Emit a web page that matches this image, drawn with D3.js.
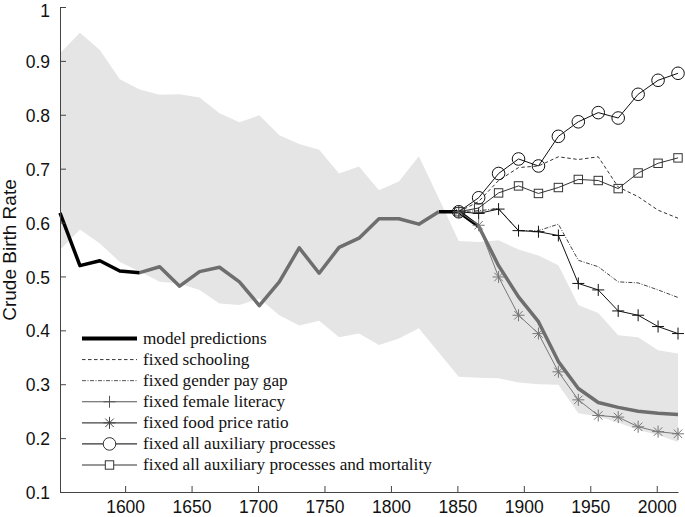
<!DOCTYPE html>
<html><head><meta charset="utf-8">
<script src="https://cdn.jsdelivr.net/npm/d3@7"></script>
<style>body{margin:0;background:#fff}svg{display:block}</style>
</head><body>
<svg id="c" width="685" height="517"></svg>
<script>
// ---- data ----
const histYears = [1551,1566,1581,1596,1611,1626,1641,1656,1671,1686,1701,1716,1731,1746,1761,1776,1791,1806,1821,1836,1851,1866,1881,1896,1911,1926,1941,1956,1971,1986,2001,2016];
const observed = [0.618,0.520,0.529,0.510,0.507,0.518,0.482,0.509,0.517,0.490,0.446,0.490,0.553,0.506,0.554,0.571,0.607,0.607,0.597,0.620,0.620,0.593,0.520,0.462,0.416,0.342,0.292,0.266,0.257,0.250,0.246,0.244];
const bandUpper = [0.914,0.952,0.920,0.866,0.847,0.837,0.838,0.832,0.803,0.786,0.799,0.762,0.746,0.735,0.691,0.704,0.660,0.676,0.723,0.645,0.566,0.564,0.567,0.550,0.539,0.521,0.447,0.432,0.391,0.387,0.363,0.357];
const bandLower = [0.549,0.587,0.561,0.527,0.509,0.490,0.487,0.475,0.450,0.447,0.459,0.428,0.409,0.418,0.387,0.394,0.373,0.385,0.404,0.359,0.314,0.312,0.311,0.303,0.300,0.299,0.246,0.240,0.229,0.215,0.206,0.193];
// model predictions (black) where visible
const modelYearsA = [1551,1566,1581,1596,1611];
const modelA = [0.618,0.520,0.529,0.510,0.507];
const modelYearsB = [1836,1851,1866];
const modelB = [0.620,0.620,0.593];

const futYears = [1851,1866,1881,1896,1911,1926,1941,1956,1971,1986,2001,2016];
const fixedSchooling = [0.620,0.639,0.678,0.702,0.705,0.722,0.717,0.722,0.666,0.648,0.623,0.608];
const fixedPayGap    = [0.620,0.622,0.626,0.585,0.585,0.597,0.530,0.518,0.490,0.488,0.475,0.461];
const fixedLiteracy  = [0.620,0.617,0.625,0.585,0.583,0.576,0.487,0.475,0.436,0.428,0.407,0.394];
const fixedFood      = [0.620,0.595,0.499,0.428,0.394,0.323,0.271,0.242,0.239,0.221,0.212,0.208];
const fixedAllAux    = [0.620,0.646,0.691,0.718,0.705,0.760,0.787,0.804,0.794,0.838,0.864,0.877];
const fixedAllAuxMort= [0.620,0.627,0.655,0.668,0.654,0.665,0.680,0.678,0.663,0.692,0.710,0.720];

const xTicks = [1600,1650,1700,1750,1800,1850,1900,1950,2000];
const yTicks = [0.1,0.2,0.3,0.4,0.5,0.6,0.7,0.8,0.9,1];
const legendLabels = ["model predictions","fixed schooling","fixed gender pay gap","fixed female literacy","fixed food price ratio","fixed all auxiliary processes","fixed all auxiliary processes and mortality"];

// ---- drawing ----
const svg = d3.select("#c");
const x = d3.scaleLinear().domain([1551,2016]).range([60,678]);
const y = d3.scaleLinear().domain([0.1,1]).range([492,7]);

const zip = (xs, ys) => xs.map((d,i)=>[d, ys[i]]);

// band
const bandData = histYears.map((d,i)=>({yr:d, lo:bandLower[i], hi:bandUpper[i]}));
svg.append("path").datum(bandData)
  .attr("d", d3.area().x(d=>x(d.yr)).y0(d=>y(d.lo)).y1(d=>y(d.hi)))
  .attr("fill","#e5e5e5");

const line = d3.line().x(d=>x(d[0])).y(d=>y(d[1]));

// black model
[[modelYearsA,modelA],[modelYearsB,modelB]].forEach(([xs,ys])=>{
  svg.append("path").datum(zip(xs,ys)).attr("d", line)
    .attr("fill","none").attr("stroke","#000").attr("stroke-width",3.5).attr("stroke-linejoin","round");
});
// observed gray (drawn over the model, except where the model is the only line)
const obsIdx = histYears.map((d,i)=>i).filter(i=>histYears[i]>=1611 && (histYears[i]<=1836 || histYears[i]>=1866));
const obsA = obsIdx.filter(i=>histYears[i]<=1836).map(i=>[histYears[i],observed[i]]);
const obsB = obsIdx.filter(i=>histYears[i]>=1866).map(i=>[histYears[i],observed[i]]);
[obsA, obsB].forEach(seg=>{
  svg.append("path").datum(seg).attr("d", line)
    .attr("fill","none").attr("stroke","#6e6e6e").attr("stroke-width",3.5).attr("stroke-linejoin","round");
});

// marker generators
function plusPath(s){ return `M${-s},0H${s}M0,${-s}V${s}`; }
function starPath(s){ const t=s*0.707; return `M${-s},0H${s}M0,${-s}V${s}M${-t},${-t}L${t},${t}M${-t},${t}L${t},${-t}`; }
function markers(g, data, type, color){
  const sel = g.selectAll(null).data(data).enter();
  if(type==="circle") sel.append("circle").attr("cx",d=>x(d[0])).attr("cy",d=>y(d[1])).attr("r",6.3).attr("fill","none").attr("stroke",color).attr("stroke-width",1);
  if(type==="square") sel.append("rect").attr("x",d=>x(d[0])-4.2).attr("y",d=>y(d[1])-4.2).attr("width",8.4).attr("height",8.4).attr("fill","none").attr("stroke",color).attr("stroke-width",1);
  if(type==="plus") sel.append("path").attr("transform",d=>`translate(${x(d[0])},${y(d[1])})`).attr("d",plusPath(6)).attr("stroke",color).attr("stroke-width",1);
  if(type==="star") sel.append("path").attr("transform",d=>`translate(${x(d[0])},${y(d[1])})`).attr("d",starPath(6)).attr("stroke",color).attr("stroke-width",1);
}

const series = [
  {vals:fixedSchooling, color:"#333", dash:"3.5,2.5", marker:null},
  {vals:fixedPayGap, color:"#444", dash:"4,1.5,1,1.5", marker:null},
  {vals:fixedLiteracy, color:"#111", dash:null, marker:"plus"},
  {vals:fixedFood, color:"#777", dash:null, marker:"star"},
  {vals:fixedAllAux, color:"#111", dash:null, marker:"circle"},
  {vals:fixedAllAuxMort, color:"#333", dash:null, marker:"square"}
];
series.forEach(s=>{
  const g = svg.append("g");
  g.append("path").datum(zip(futYears, s.vals)).attr("d", line)
    .attr("fill","none").attr("stroke",s.color).attr("stroke-width",1)
    .attr("stroke-dasharray", s.dash);
  if(s.marker) markers(g, zip(futYears, s.vals), s.marker, s.color);
});

// axes
const axisColor = "#444";
const gx = svg.append("g").attr("transform","translate(0,492)")
  .call(d3.axisBottom(x).tickValues(xTicks).tickFormat(d3.format("d")).tickSizeInner(-6).tickSizeOuter(0).tickPadding(9));
const gy = svg.append("g").attr("transform","translate(60,0)")
  .call(d3.axisLeft(y).tickValues(yTicks).tickFormat(d=>d===1?"1":d3.format(".1f")(d)).tickSizeInner(-6).tickSizeOuter(0).tickPadding(10));
[gx,gy].forEach(g=>{
  g.select(".domain").attr("stroke",axisColor);
  g.selectAll(".tick line").attr("stroke",axisColor);
  g.selectAll("text").attr("font-family","'Liberation Sans', Arial, sans-serif").attr("font-size",17.5).attr("fill","#111");
});
gy.selectAll("text").attr("dy", d => d===1 ? "0.52em" : "0.38em");

svg.append("text").attr("transform","translate(16,250) rotate(-90)")
  .attr("text-anchor","middle").attr("font-family","'Liberation Sans', Arial, sans-serif")
  .attr("font-size",19).attr("fill","#111").text("Crude Birth Rate");

// legend
const leg = svg.append("g");
const legStyles = [
  {color:"#000", w:4, dash:null, marker:null},
  {color:"#333", w:1, dash:"3.5,2.5", marker:null},
  {color:"#555", w:1, dash:"4,1.5,1,1.5", marker:null},
  {color:"#555", w:1.2, dash:null, marker:"plus"},
  {color:"#444", w:1.2, dash:null, marker:"star"},
  {color:"#333", w:1.2, dash:null, marker:"circle"},
  {color:"#333", w:1.2, dash:null, marker:"square"}
];
const legRow = d3.scaleLinear().domain([0,6]).range([338.5,465]);
legendLabels.forEach((lab,i)=>{
  const yy = legRow(i), st = legStyles[i];
  leg.append("line").attr("x1",82).attr("x2",137).attr("y1",yy).attr("y2",yy)
    .attr("stroke",st.color).attr("stroke-width",st.w).attr("stroke-dasharray",st.dash);
  if(st.marker==="plus") leg.append("path").attr("transform",`translate(109.5,${yy})`).attr("d",plusPath(6)).attr("stroke",st.color);
  if(st.marker==="star") leg.append("path").attr("transform",`translate(109.5,${yy})`).attr("d",starPath(6)).attr("stroke",st.color);
  if(st.marker==="circle") leg.append("circle").attr("cx",109.5).attr("cy",yy).attr("r",6.3).attr("fill","#fff").attr("stroke",st.color);
  if(st.marker==="square") leg.append("rect").attr("x",105.3).attr("y",yy-4.2).attr("width",8.4).attr("height",8.4).attr("fill","#fff").attr("stroke",st.color);
  leg.append("text").attr("x",143).attr("y",yy+5).attr("font-family","'Liberation Serif','Times New Roman',serif")
    .attr("font-size",17.2).attr("fill","#111").text(lab);
});
</script>
</body></html>
